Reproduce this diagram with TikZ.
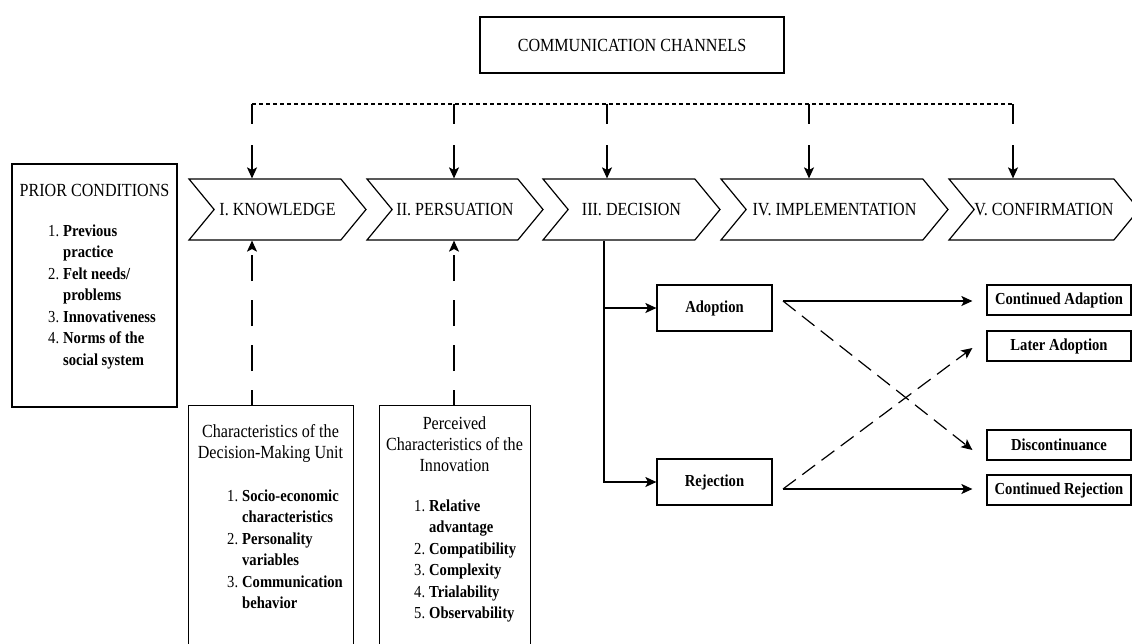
\documentclass[tikz,border=0pt]{standalone}
\usepackage{fontspec}
\setmainfont{Liberation Serif}[FakeStretch=0.87]
\usetikzlibrary{positioning,arrows.meta,shapes.symbols}
\newcommand{\headtxt}{\fontsize{18.5}{21}\selectfont}
\newcommand{\listtxt}{\fontsize{16.8}{21.5}\selectfont}

\begin{document}
\begin{tikzpicture}[
x=1pt, y=-1pt,
font=\headtxt,
box/.style={draw, line width=1.2pt, fill=white, inner sep=0pt},
txt/.style={inner sep=0pt, align=center},
itembox/.style={box, font=\listtxt\bfseries},
chev/.style={draw, line width=1.2pt, fill=white, signal, signal to=east, signal from=west, signal pointer angle=101, minimum height=61pt, inner sep=0pt},
arr/.style={-{Stealth[length=11pt,width=10pt,inset=2.5pt]}, line width=1.2pt},
chanline/.style={line width=1.2pt, dash pattern=on 4pt off 3pt},
droparr/.style={arr, dash pattern=on 20pt off 21pt on 40pt off 5pt},
uparr/.style={arr, dash pattern=on 26pt off 19pt, dash phase=11pt},
crossarr/.style={arr, dash pattern=on 16pt off 8pt}
]
\path[use as bounding box, clip] (0,0) rectangle (1132,643);

\node[box, minimum width=304, minimum height=56] (comm) at (632,45) {COMMUNICATION CHANNELS};

% stages
\node[chev, minimum width=177] (know) at (277.5,209.5) {I. KNOWLEDGE};
\node[chev, minimum width=176] (pers) at (455,209.5) {II. PERSUATION};
\node[chev, minimum width=177] (deci) at (631.5,209.5) {III. DECISION};
\node[chev, minimum width=227] (impl) at (834.5,209.5) {IV. IMPLEMENTATION};
\node[chev, minimum width=190] (conf) at (1044,209.5) {V. CONFIRMATION};

% prior conditions
\node[box, minimum width=165, minimum height=243] (prior) at (94.5,285.5) {};
\node[txt] (priorhead) at (94.5,190) {PRIOR CONDITIONS};
\node[txt, font=\listtxt, anchor=north west] (priorlist) at (48,221) {%
\begin{tabular}{@{}r@{\hspace{4pt}}l@{}}
1. & \textbf{Previous}\\
   & \textbf{practice}\\
2. & \textbf{Felt needs/}\\
   & \textbf{problems}\\
3. & \textbf{Innovativeness}\\
4. & \textbf{Norms of the}\\
   & \textbf{social system}
\end{tabular}};

% characteristics boxes
\node[box, minimum width=165, minimum height=260, anchor=north west] (unit) at (188,405) {};
\node[txt] (unithead) at (270.5,443) {Characteristics of the\\Decision-Making Unit};
\node[txt, font=\listtxt, anchor=north west] (unitlist) at (227,486) {%
\begin{tabular}{@{}r@{\hspace{4pt}}l@{}}
1. & \textbf{Socio-economic}\\
   & \textbf{characteristics}\\
2. & \textbf{Personality}\\
   & \textbf{variables}\\
3. & \textbf{Communication}\\
   & \textbf{behavior}
\end{tabular}};

\node[box, minimum width=151, minimum height=260, anchor=north west] (inno) at (379,405) {};
\node[txt] (innohead) at (454.5,444) {Perceived\\Characteristics of the\\Innovation};
\node[txt, font=\listtxt, anchor=north west] (innolist) at (414,496) {%
\begin{tabular}{@{}r@{\hspace{4pt}}l@{}}
1. & \textbf{Relative}\\
   & \textbf{advantage}\\
2. & \textbf{Compatibility}\\
3. & \textbf{Complexity}\\
4. & \textbf{Trialability}\\
5. & \textbf{Observability}
\end{tabular}};

% decision outcomes
\node[itembox, minimum width=115, minimum height=46] (adop) at (714.5,308) {Adoption};
\node[itembox, minimum width=115, minimum height=46] (rej) at (714.5,482) {Rejection};
\node[itembox, minimum width=144, minimum height=30] (contA) at (1059,300) {Continued Adaption};
\node[itembox, minimum width=144, minimum height=30] (later) at (1059,346) {Later Adoption};
\node[itembox, minimum width=144, minimum height=30] (disc) at (1059,445) {Discontinuance};
\node[itembox, minimum width=144, minimum height=30] (contR) at (1059,490) {Continued Rejection};

% channels
\coordinate (d1) at (252,104);
\coordinate (d2) at (454,104);
\coordinate (d3) at (607,104);
\coordinate (d4) at (809,104);
\coordinate (d5) at (1013,104);
\draw[chanline] (d1) -- (d5);
\draw[droparr] (d1) -- (d1 |- know.north);
\draw[droparr] (d2) -- (d2 |- pers.north);
\draw[droparr] (d3) -- (d3 |- deci.north);
\draw[droparr] (d4) -- (d4 |- impl.north);
\draw[droparr] (d5) -- (d5 |- conf.north);

\draw[uparr] (d1 |- unit.north) -- (d1 |- know.south);
\draw[uparr] (d2 |- inno.north) -- (d2 |- pers.south);

\coordinate (stem) at (604,482);
\draw[arr] (stem |- deci.south) |- (rej.west);
\draw[arr] (stem |- adop.west) -- (adop.west);

\coordinate (outA) at (783,301);
\coordinate (outR) at (783,489);
\draw[arr, shorten >=14pt] (outA) -- (outA -| contA.west);
\draw[arr, shorten >=14pt] (outR) -- (outR -| contR.west);
\draw[crossarr] (outA) -- ([shift={(-14,5)}]disc.west);
\draw[crossarr] (outR) -- ([shift={(-14,2)}]later.west);
\end{tikzpicture}
\end{document}
